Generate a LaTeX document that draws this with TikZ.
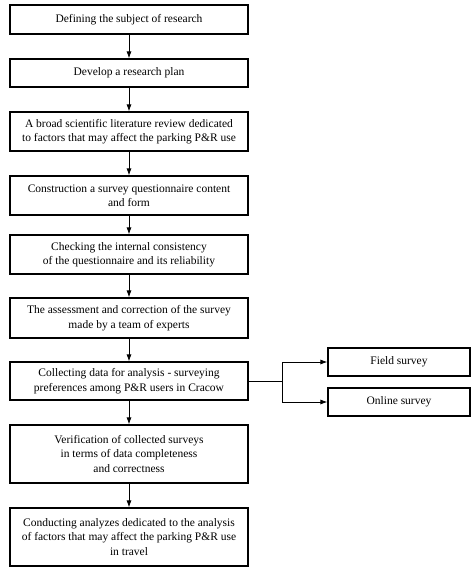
\documentclass[tikz,border=0pt]{standalone}
\usepackage{fontspec}
\setmainfont{Liberation Serif}
\usetikzlibrary{arrows.meta}
\begin{document}
\begin{tikzpicture}[x=1pt,y=-1pt,
  box/.style={draw, line width=1.1pt, minimum width=238pt, inner sep=0pt, align=center, font=\fontsize{11.5}{14.5}\selectfont},
  sbox/.style={draw, line width=1.1pt, minimum width=142pt, minimum height=28pt, inner sep=0pt, align=center, font=\fontsize{11.5}{14.5}\selectfont},
  arr/.style={line width=0.9pt, -{Latex[length=7pt,width=5pt]}}]
\useasboundingbox (0,0) rectangle (474,573);
\node[box, minimum height=29pt] (b1) at (129,19.5) {Defining the subject of research};
\node[box, minimum height=28pt] (b2) at (129,73) {Develop a research plan};
\node[box, minimum height=39pt] (b3) at (129,131.5) {A broad scientific literature review dedicated\\to factors that may affect the parking P\&R use};
\node[box, minimum height=39pt] (b4) at (129,195.5) {Construction a survey questionnaire content\\and form};
\node[box, minimum height=39pt] (b5) at (129,254.5) {Checking the internal consistency\\of the questionnaire and its reliability};
\node[box, minimum height=40pt] (b6) at (129,318) {The assessment and correction of the survey\\made by a team of experts};
\node[box, minimum height=38pt] (b7) at (129,381) {Collecting data for analysis - surveying\\preferences among P\&R users in Cracow};
\node[box, minimum height=58pt] (b8) at (129,454) {Verification of collected surveys\\in terms of data completeness\\and correctness};
\node[box, minimum height=58pt] (b9) at (129,537) {Conducting analyzes dedicated to the analysis\\of factors that may affect the parking P\&R use\\in travel};
\node[sbox] (f) at (399,362) {Field survey};
\node[sbox] (o) at (399,402) {Online survey};
\coordinate (j) at (282,381);
\foreach \a/\b in {b1/b2,b2/b3,b3/b4,b4/b5,b5/b6,b6/b7,b7/b8,b8/b9}
  \draw[arr] (\a) -- (\b);
\draw[line width=0.9pt] (b7.east) -- (j);
\draw[arr] (j) |- (f.west);
\draw[arr] (j) |- (o.west);
\end{tikzpicture}
\end{document}
